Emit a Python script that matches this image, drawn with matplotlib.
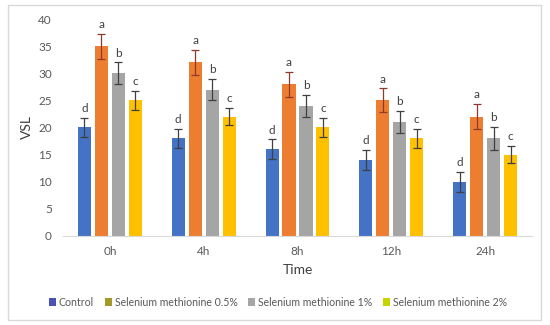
import matplotlib
matplotlib.use("Agg")
import matplotlib.pyplot as plt
import numpy as np
from matplotlib.patches import Rectangle, Patch

times = ["0h", "4h", "8h", "12h", "24h"]
series = ["Control", "Selenium methionine 0.5%", "Selenium methionine 1%", "Selenium methionine 2%"]
control = [20, 18, 16, 14, 10]
se05 = [35, 32, 28, 25, 22]
se1 = [30, 27, 24, 21, 18]
se2 = [25, 22, 20, 18, 15]
control_err = [1.8, 1.7, 1.8, 1.8, 1.8]
se05_err = [2.3, 2.3, 2.3, 2.2, 2.3]
se1_err = [2.0, 2.0, 2.0, 2.0, 2.1]
se2_err = [1.7, 1.6, 1.7, 1.7, 1.6]
letters = ["d", "a", "b", "c"]

values = [control, se05, se1, se2]
errors = [control_err, se05_err, se1_err, se2_err]
bar_colors = ["#4472C4", "#ED7D31", "#A5A5A5", "#FFC000"]
legend_colors = ["#4A52B5", "#A39A2A", "#A5A5A5", "#C8D400"]
err_colors = ["#404040", "#8E3A2A", "#404040", "#404040"]

plt.rcParams['font.family'] = ['Lato', 'DejaVu Sans']
fig = plt.figure(figsize=(5.5, 3.25), dpi=100)
ax = fig.add_axes([63/550, 1 - 236/325, (532-63)/550, (236-19)/325])

x = np.arange(len(times))
step = 0.181
width = 0.139
for i, (vals, errs) in enumerate(zip(values, errors)):
    pos = x + (i - 1.5) * step
    ax.bar(pos, vals, width=width, color=bar_colors[i], zorder=2)
    ax.errorbar(pos, vals, yerr=errs, fmt='none', ecolor=err_colors[i],
                elinewidth=0.9, capsize=3, capthick=0.9, zorder=3)
    for p, v, e in zip(pos, vals, errs):
        ax.text(p, v + e + 0.7, letters[i], ha='center', va='bottom',
                fontsize=8.5, color='#404040')

ax.set_xlim(-0.5, len(times) - 0.5)
ax.set_ylim(0, 40)
ax.set_yticks(range(0, 41, 5))
ax.set_xticks(x)
ax.set_xticklabels(times)
for s in ['top', 'right', 'left']:
    ax.spines[s].set_visible(False)
ax.spines['bottom'].set_color('#D9D9D9')
ax.tick_params(axis='both', length=0, labelsize=8.5, colors='#595959', pad=8)
ax.tick_params(axis='x', pad=7)
ax.set_ylabel("VSL", fontsize=10, color='#404040', labelpad=4)
ax.set_xlabel("Time", fontsize=10, color='#404040', labelpad=5)

handles = [Patch(facecolor=c, edgecolor='none') for c in legend_colors]
fig.legend(handles, series, loc='center', bbox_to_anchor=(278/550, 1 - 302/325),
           ncol=4, frameon=False, fontsize=7.6, handlelength=0.7, handleheight=0.7,
           handletextpad=0.25, columnspacing=1.0, labelcolor='#595959')

fig.patches.append(Rectangle((8/550, 5/325), 533/550, 315/325, transform=fig.transFigure,
                             fill=False, edgecolor='#D9D9D9', linewidth=1))
fig.savefig("out.png", dpi=100)
